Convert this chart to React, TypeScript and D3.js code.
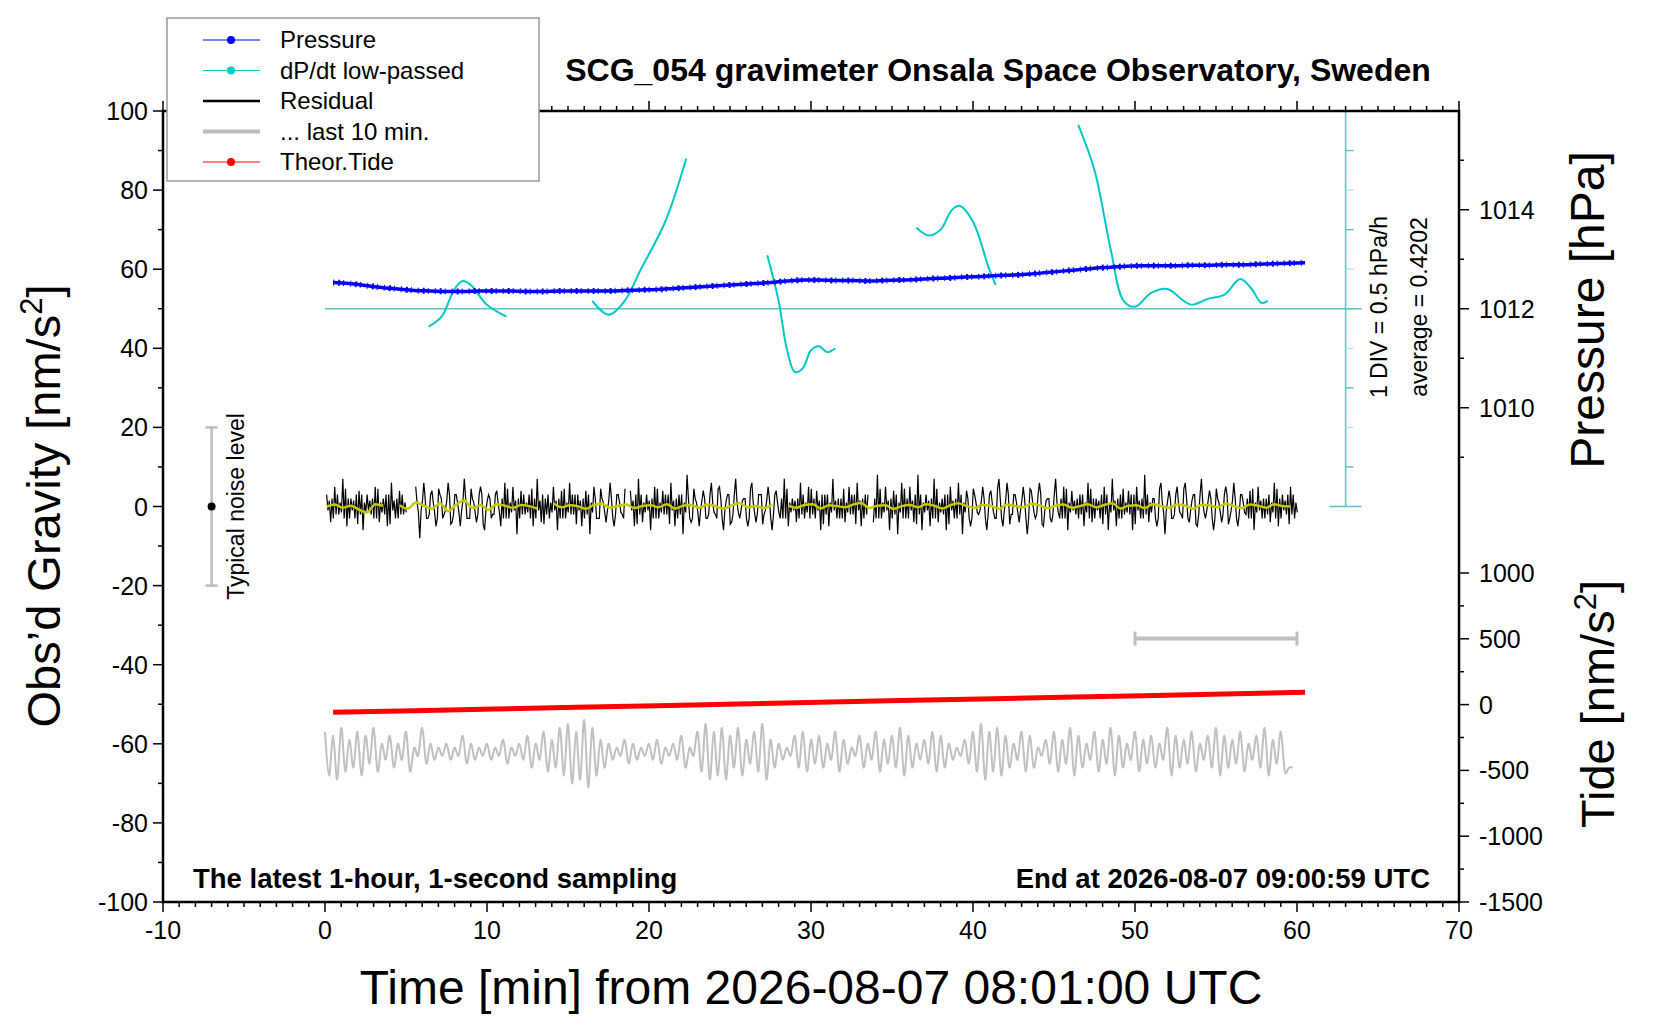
import React from 'react';
import * as d3 from 'd3';

// ---- data ----
const timeTicks = [-10, 0, 10, 20, 30, 40, 50, 60, 70];
const gravTicks = [-100, -80, -60, -40, -20, 0, 20, 40, 60, 80, 100];
const pressTicks = [1010, 1012, 1014];
const tideTicks = [-1500, -1000, -500, 0, 500, 1000];

// pressure [hPa], one value per minute from t = 0.5
const pressure = [
  1012.53, 1012.51, 1012.47, 1012.43, 1012.40, 1012.37, 1012.36, 1012.35, 1012.35, 1012.36,
  1012.36, 1012.36, 1012.35, 1012.35, 1012.36, 1012.36, 1012.36, 1012.36, 1012.37, 1012.38,
  1012.39, 1012.41, 1012.43, 1012.45, 1012.47, 1012.49, 1012.51, 1012.53, 1012.56, 1012.58,
  1012.58, 1012.57, 1012.57, 1012.56, 1012.57, 1012.58, 1012.59, 1012.61, 1012.62, 1012.64,
  1012.65, 1012.67, 1012.68, 1012.70, 1012.73, 1012.76, 1012.79, 1012.82, 1012.84, 1012.86,
  1012.87, 1012.87, 1012.87, 1012.88, 1012.88, 1012.89, 1012.89, 1012.90, 1012.91, 1012.92, 1012.93,
];

// dP/dt low-passed, drawn wrapped on the gravity scale: [time, value]
const dpdtSegments: [number, number][][] = [
  [[6.4, 45.5], [7.2, 48], [8, 55], [8.5, 57], [9, 56], [10, 51], [11.2, 48]],
  [[16.5, 52], [17.5, 48.5], [18.5, 52], [19.5, 60], [21, 72], [22.3, 88]],
  [[27.3, 63.5], [28, 52], [28.5, 40], [29, 34], [29.5, 35], [30, 39.5], [30.5, 40.5], [31, 39], [31.5, 40]],
  [[36.5, 70.5], [37.3, 68.5], [38, 70], [38.7, 75], [39.2, 76], [40, 72], [41, 60], [41.4, 56]],
  [[46.5, 96.5], [47.5, 85], [48.5, 65], [49.3, 52], [50, 50.5], [51, 54], [52, 55], [53, 52], [53.5, 51],
   [54.5, 52.5], [55.5, 53.5], [56.5, 57.5], [57.2, 55], [57.8, 51.5], [58.2, 52]],
];

// residual [nm/s^2], every 0.25 min from t = 0.1 (NaN = gap)
const residual = [
  3, -4, 5, -2, 7, -5, 2, -3, 4, -6, 3, -2, 5, -4, 2, -5, 6, -3, 4, -2,
  NaN, NaN, 5, -8, 6, -3, 4, -5, 3, -2, 6, -4, 3, -5, 7, -3, 2, -4, 5, -6,
  3, -2, 4, -5, 6, -3, 5, -7, 4, -2, 3, -5, 7, -4, 2, -3, 5, -6, 4, -3,
  6, -2, 3, -5, 4, -7, 5, -3, 2, -4, 6, -5, 3, -2, NaN, 4, -5, 7, -4, 3,
  -6, 5, -3, 4, -2, 6, -5, 3, -7, 8, -4, 2, -5, 4, -3, 6, -2, 5, -6, 3,
  -4, 7, -3, 2, -5, 6, -4, 3, -2, 5, -6, 4, -3, 7, -5, 2, -4, 6, -3, 5,
  -2, 4, -6, 3, -5, 7, -3, 2, -4, 5, -2, 6, -5, 3, NaN, -4, 8, -3, 5, -6,
  4, -7, 6, -3, 5, -4, 8, -6, 3, -5, 7, -4, 2, -6, 5, -3, 6, -7, 4, -5,
  3, -2, 5, -6, 4, -3, 7, -5, 6, -2, 3, -4, 5, -7, 4, -3, 6, -5, 2, -4,
  7, -3, 5, -6, 4, -2, 3, -5, 6, -4, 2, -3, 5, -6, 7, -5, 3, -2, 4, -6,
  5, -3, 8, -4, 2, -5, 6, -7, 4, -3, 5, -2, 6, -4, 3, -5, 7, -3, 4, -6,
  2, -4, 5, -3, 6, -5, 3, -2, 4, -6, 5, -3, 2, -4, 6, -5, 3, -2, 5, -3,
];

// small in-between wiggles of the residual
const residualFine = [
  -1, 2, -2, 1, -3, 2, -1, 3, -2, 1, -1, 2, -3, 1, -2, 3, -1, 2, -2, 1, 2, -3, 1,
];

// smoothed residual (yellow), every 0.5 min from t = 0.1
const smoothed = [
  0, 0.5, -0.3, 0.2, -0.8, -1.5, 0.6, 0.2, NaN, 0.3, -0.6, 1, 0.2, -0.5, 0.8, -1.2, 0.5, 1.5, -0.4, 0.3,
  -0.8, 0.6, 0.2, -0.3, 0.4, 0.1, -0.5, NaN, 0.8, -0.2, 0.3, 0.1, -0.6, 0.4, 0.7, -0.3, 0.2, 0.5, -0.4, 0.1,
  0.3, -0.2, 0.6, -0.5, 0.2, 0.4, -0.3, 0.5, 0.1, -0.6, 0.3, 0.8, -0.2, 0.1, -0.4, 0.5, NaN, 0.2, -0.3, 0.4,
  0.6, -0.5, 0.3, 0.1, -0.2, 0.5, 0.9, -0.4, 0.2, 0.3, -0.6, 0.1, 0.4, -0.2, 0.6, 0.2, -0.5, 0.3, 0.8, 0.1,
  -0.3, 0.4, 0.2, -0.6, 0.5, 0.1, -0.2, 0.7, 0.3, -0.4, 0.2, 0.5, -0.3, 0.1, 0.6, -0.2, 0.4, 0.8, -0.5, 0.2,
  0.3, -0.4, 0.6, 0.1, -0.3, 0.5, 0.2, -0.6, 0.4, 0.3, -0.2, 0.7, 0.1, -0.4, 0.5, 0.2, -0.3, 0.6, 0.1, 0,
];

// residual of the last 10 min (grey), every 0.25 min from t = 0
const lastTen = [
  -57, -68, -58, -69, -56, -67, -59, -66, -57, -68, -58, -65, -56, -67, -60, -64, -58, -66, -60, -64,
  -57, -67, -61, -63, -56, -65, -60, -64, -61, -63, -60, -64, -61, -63, -58, -65, -60, -64, -61, -63,
  -60, -64, -61, -63, -59, -65, -61, -63, -60, -64, -58, -66, -60, -64, -57, -67, -59, -66, -56, -68,
  -55, -70, -57, -69, -54, -71, -56, -68, -59, -66, -60, -64, -61, -63, -59, -65, -60, -64, -61, -63,
  -60, -64, -59, -65, -61, -63, -60, -64, -58, -66, -61, -63, -57, -67, -55, -69, -57, -68, -56, -69,
  -58, -66, -56, -68, -59, -65, -57, -67, -55, -69, -59, -66, -60, -64, -61, -63, -58, -66, -57, -67,
  -59, -65, -58, -66, -60, -64, -57, -67, -59, -65, -61, -63, -58, -66, -60, -64, -57, -67, -59, -65,
  -58, -66, -56, -68, -58, -66, -60, -64, -59, -65, -57, -67, -58, -66, -60, -64, -61, -63, -59, -65,
  -57, -67, -55, -69, -57, -67, -56, -68, -58, -66, -60, -64, -57, -67, -58, -66, -61, -63, -59, -65,
  -57, -67, -59, -65, -56, -68, -58, -66, -60, -64, -57, -67, -59, -65, -56, -68, -58, -66, -60, -64,
  -57, -67, -59, -65, -58, -66, -60, -64, -56, -68, -58, -66, -59, -65, -57, -67, -60, -64, -58, -66,
  -56, -68, -58, -66, -59, -65, -57, -67, -60, -64, -58, -66, -56, -68, -59, -65, -57, -67, -66, -66,
];

// theoretical tide [nm/s^2], every 5 min from t = 0.5
const tide = [-58, -46, -34, -21, -8, 5, 18, 31, 43, 56, 68, 81, 93];

const legendItems = [
  { label: 'Pressure', color: '#0000ff', dot: true, w: 1 },
  { label: 'dP/dt low-passed', color: '#00cccc', dot: true, w: 1 },
  { label: 'Residual', color: '#000000', dot: false, w: 2.5 },
  { label: '... last 10 min.', color: '#bbbbbb', dot: false, w: 4 },
  { label: 'Theor.Tide', color: '#ff0000', dot: true, w: 1 },
];

const W = 1660, H = 1020;
const L = 163, R = 1459, T = 111, B = 902;
const FONT = '"Liberation Sans", Arial, Helvetica, sans-serif';

export default function App() {
  const x = d3.scaleLinear().domain([-10, 70]).range([L, R]);
  const y = d3.scaleLinear().domain([-100, 100]).range([B, T]);
  const yP = d3.scaleLinear().domain([1012, 1014]).range([y(50), y(50) - 99]);
  const yT = d3.scaleLinear().domain([-1500, 1000]).range([B, 573]);

  const line = d3.line<[number, number]>().x(d => x(d[0])).y(d => y(d[1]))
    .defined(d => !isNaN(d[1]));

  const pPath = d3.line<number>().x((_, i) => x(0.5 + i)).y(d => yP(d)).curve(d3.curveMonotoneX)(pressure) || '';
  const tPath = d3.line<number>().x((_, i) => x(0.5 + i * 5)).y(d => yT(d))(tide) || '';
  // residual: main spikes interleaved with the smaller wiggles between them
  const resPts: [number, number][] = [];
  residual.forEach((v, i) => {
    resPts.push([0.1 + i * 0.25, v]);
    const f = residualFine[i % residualFine.length];
    resPts.push([0.1 + i * 0.25 + 0.083, isNaN(v) ? NaN : f]);
    resPts.push([0.1 + i * 0.25 + 0.166, isNaN(v) ? NaN : -f * 1.5]);
  });
  const resPath = line(resPts) || '';
  const smPath = line.curve(d3.curveMonotoneX)(smoothed.map((v, i) => [0.1 + i * 0.5, v] as [number, number])) || '';
  const greyPath = d3.line<number>().x((_, i) => x(i * 0.25)).y(d => y(d)).curve(d3.curveCardinal)(lastTen) || '';
  const cyan = d3.line<[number, number]>().x(d => x(d[0])).y(d => y(d[1])).curve(d3.curveCatmullRom);

  const cyanX = x(63);
  const divs = d3.range(0, 101, 10);

  return (
    <svg width={W} height={H} style={{ position: 'absolute', left: 0, top: 0, background: '#fff' }} fontFamily={FONT}>
      {/* cyan dP/dt scale */}
      <g stroke="#5cc4c4" strokeWidth={1.5}>
        <line x1={cyanX} x2={cyanX} y1={y(100)} y2={y(0)} />
        <line x1={cyanX - 16} x2={cyanX + 16} y1={y(100)} y2={y(100)} />
        <line x1={cyanX - 16} x2={cyanX + 16} y1={y(0)} y2={y(0)} />
        {divs.slice(1, -1).map((d, i) => (
          <line key={d} x1={cyanX} x2={cyanX + 8} y1={y(d)} y2={y(d)} stroke={i % 2 ? '#bfe6e6' : '#5cc4c4'} />
        ))}
        <line x1={x(0)} x2={cyanX + 16} y1={y(50)} y2={y(50)} />
      </g>
      <g fill="#000" fontSize={23}>
        <text transform={`translate(${1387},${307}) rotate(-90)`} textAnchor="middle">1 DIV = 0.5 hPa/h</text>
        <text transform={`translate(${1427},${307}) rotate(-90)`} textAnchor="middle">average = 0.4202</text>
      </g>

      {/* series */}
      {dpdtSegments.map((s, i) => (
        <path key={i} d={cyan(s) || ''} fill="none" stroke="#00c8c8" strokeWidth={2} />
      ))}
      <path d={pPath} fill="none" stroke="#0000ff" strokeWidth={3.5} />
      <path d={pPath} fill="none" stroke="#0000ff" strokeWidth={6} strokeDasharray="1 4 2 3 1 6" />
      <path d={resPath} fill="none" stroke="#000" strokeWidth={1.2} />
      <path d={smPath} fill="none" stroke="#c8c800" strokeWidth={2.5} />
      <path d={greyPath} fill="none" stroke="#c0c0c0" strokeWidth={2} />
      <path d={tPath} fill="none" stroke="#ff0000" strokeWidth={5} />

      {/* last 10 min marker */}
      <g stroke="#c0c0c0" strokeWidth={4}>
        <line x1={x(50)} x2={x(60)} y1={y(-33.4)} y2={y(-33.4)} />
        <line x1={x(50)} x2={x(50)} y1={y(-33.4) - 7} y2={y(-33.4) + 7} strokeWidth={3} />
        <line x1={x(60)} x2={x(60)} y1={y(-33.4) - 7} y2={y(-33.4) + 7} strokeWidth={3} />
      </g>

      {/* typical noise level */}
      <g stroke="#bbbbbb" strokeWidth={2.5}>
        <line x1={x(-7)} x2={x(-7)} y1={y(20)} y2={y(-20)} />
        <line x1={x(-7) - 6} x2={x(-7) + 6} y1={y(20)} y2={y(20)} />
        <line x1={x(-7) - 6} x2={x(-7) + 6} y1={y(-20)} y2={y(-20)} />
      </g>
      <circle cx={x(-7)} cy={y(0)} r={4} fill="#000" />
      <text transform={`translate(${244},${y(0)}) rotate(-90)`} textAnchor="middle" fontSize={23}>Typical noise level</text>

      {/* frame and axes */}
      <rect x={L} y={T} width={R - L} height={B - T} fill="none" stroke="#000" strokeWidth={2.5} />
      <g stroke="#000" strokeWidth={1.5}>
        {d3.range(-10, 71, 1).map(t => {
          const len = t % 10 === 0 ? 10 : 5;
          return (
            <g key={t}>
              <line x1={x(t)} x2={x(t)} y1={B} y2={B + len} />
              <line x1={x(t)} x2={x(t)} y1={T} y2={T - len} />
            </g>
          );
        })}
        {d3.range(-100, 101, 10).map(g => (
          <line key={g} x1={L} x2={L - (g % 20 === 0 ? 10 : 5)} y1={y(g)} y2={y(g)} />
        ))}
        {d3.range(1009, 1016).map(p => (
          <line key={p} x1={R} x2={R + (p % 2 === 0 ? 10 : 5)} y1={yP(p)} y2={yP(p)} />
        ))}
        {d3.range(-1500, 1001, 250).map(v => (
          <line key={v} x1={R} x2={R + (v % 500 === 0 ? 10 : 5)} y1={yT(v)} y2={yT(v)} />
        ))}
      </g>
      <g fontSize={25} fill="#000">
        {timeTicks.map(t => (
          <text key={t} x={x(t)} y={B + 37} textAnchor="middle">{t}</text>
        ))}
        {gravTicks.map(g => (
          <text key={g} x={L - 15} y={y(g) + 9} textAnchor="end">{g}</text>
        ))}
        {pressTicks.map(p => (
          <text key={p} x={R + 20} y={yP(p) + 9}>{p}</text>
        ))}
        {tideTicks.map(v => (
          <text key={v} x={R + 20} y={yT(v) + 9}>{v}</text>
        ))}
      </g>

      {/* titles */}
      <text x={998} y={81} textAnchor="middle" fontSize={32} fontWeight="bold">SCG_054 gravimeter Onsala Space Observatory, Sweden</text>
      <text x={193} y={888} fontSize={27.5} fontWeight="bold">The latest 1-hour, 1-second sampling</text>
      <text x={1430} y={888} textAnchor="end" fontSize={27.5} fontWeight="bold">End at 2026-08-07 09:00:59 UTC</text>
      <text x={811} y={1004} textAnchor="middle" fontSize={48}>Time [min] from 2026-08-07 08:01:00 UTC</text>
      <text transform={`translate(${60},${506}) rotate(-90)`} textAnchor="middle" fontSize={47}>
        Obs’d Gravity [nm/s<tspan dy={-18} fontSize={31}>2</tspan><tspan dy={18}>]</tspan>
      </text>
      <text transform={`translate(${1604},${310}) rotate(-90)`} textAnchor="middle" fontSize={48}>Pressure [hPa]</text>
      <text transform={`translate(${1614},${704}) rotate(-90)`} textAnchor="middle" fontSize={47}>
        Tide [nm/s<tspan dy={-18} fontSize={31}>2</tspan><tspan dy={18}>]</tspan>
      </text>

      {/* legend */}
      <rect x={167} y={18} width={372} height={163} fill="#fff" stroke="#999" strokeWidth={1.5} />
      {legendItems.map((it, i) => {
        const ly = 40 + i * 30.5;
        return (
          <g key={it.label}>
            <line x1={203} x2={260} y1={ly} y2={ly} stroke={it.color} strokeWidth={it.w} />
            {it.dot && <circle cx={231} cy={ly} r={4} fill={it.color} />}
            <text x={280} y={ly + 8} fontSize={24}>{it.label}</text>
          </g>
        );
      })}
    </svg>
  );
}
